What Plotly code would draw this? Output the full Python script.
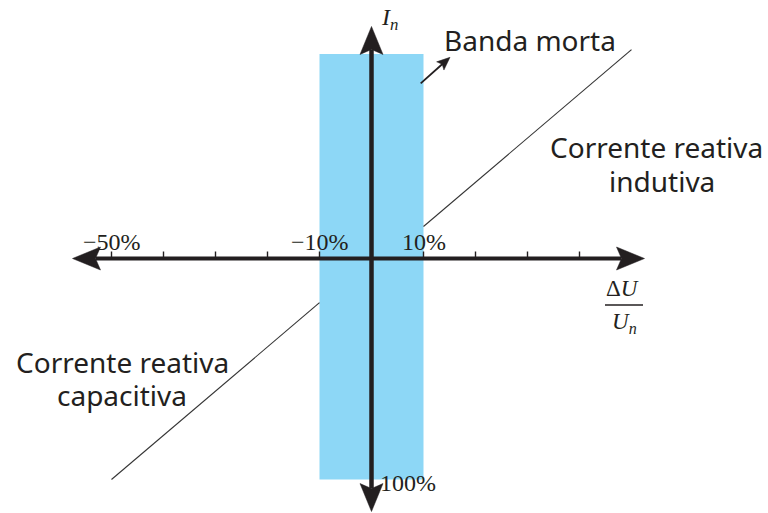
import math
import plotly.graph_objects as go

# ---------------- data (percent units) ----------------
cap_x = [-50, -10]          # "Corrente reativa capacitiva" segment
cap_y = [-100, -20]
ind_x = [10, 50]            # "Corrente reativa indutiva" segment
ind_y = [14.5, 94.5]
band_x = [-10, 10]          # dead band
band_y = [-100, 92.5]
tick_x = [-50, -40, -30, -20, -10, 10, 20, 30, 40]
tick_label_x = [-50, -10, 10]
tick_label_text = ["\u221250%", "\u221210%", "10%"]
v_label_y = -100
v_label_text = "100%"
x_axis_ends = [-57.5, 52.5]
y_axis_ends = [-114.5, 105]

# ---------------- geometry ----------------
W, H = 768, 513
X0_PX, Y0_PX = 371.5, 258.5    # pixel position of origin
SX, SY = 5.2, 2.21             # pixels per percent
x_range = [(0 - X0_PX) / SX, (W - X0_PX) / SX]
y_range = [(Y0_PX - H) / SY, Y0_PX / SY]

DARK = "#231f20"
BLUE = "#8dd7f6"


def to_px(x, y):
    return X0_PX + SX * x, Y0_PX - SY * y


def to_data(px, py):
    return (px - X0_PX) / SX, (Y0_PX - py) / SY


def arrow_head(tip, direction, length, width, notch):
    """stealth arrowhead polygon in data coords; tip given in data coords"""
    tx, ty = to_px(*tip)
    dx, dy = direction
    n = math.hypot(dx, dy)
    dx, dy = dx / n, dy / n
    nx, ny = -dy, dx
    pts_px = [
        (tx, ty),
        (tx - dx * length + nx * width / 2, ty - dy * length + ny * width / 2),
        (tx - dx * (length - notch), ty - dy * (length - notch)),
        (tx - dx * length - nx * width / 2, ty - dy * length - ny * width / 2),
        (tx, ty),
    ]
    pts = [to_data(px, py) for px, py in pts_px]
    return [p[0] for p in pts], [p[1] for p in pts]


fig = go.Figure()

# dead band
fig.add_shape(type="rect", x0=band_x[0], x1=band_x[1], y0=band_y[0], y1=band_y[1],
              fillcolor=BLUE, line_width=0, layer="below")

# characteristic lines
for xs, ys in [(cap_x, cap_y), (ind_x, ind_y)]:
    fig.add_trace(go.Scatter(x=xs, y=ys, mode="lines",
                             line=dict(color="#333333", width=1.1),
                             hoverinfo="skip", showlegend=False))

# axis shafts
AL, AW, AN = 28, 23, 5
notch_x = (AL - AN) / SX
notch_y = (AL - AN) / SY
fig.add_shape(type="line", x0=x_axis_ends[0] + notch_x, x1=x_axis_ends[1] - notch_x,
              y0=0, y1=0, line=dict(color=DARK, width=4.2))
fig.add_shape(type="line", x0=0, x1=0, y0=y_axis_ends[0] + notch_y,
              y1=y_axis_ends[1] - notch_y, line=dict(color=DARK, width=4.5))

# ticks
tick_h = 7 / SY
for t in tick_x:
    fig.add_shape(type="line", x0=t, x1=t, y0=0, y1=tick_h,
                  line=dict(color=DARK, width=1.4))

# arrowheads of the axes
heads = [
    ((x_axis_ends[0], 0), (-1, 0)),
    ((x_axis_ends[1], 0), (1, 0)),
    ((0, y_axis_ends[1]), (0, -1)),
    ((0, y_axis_ends[0]), (0, 1)),
]
for tip, d in heads:
    hx, hy = arrow_head(tip, d, AL, AW, AN)
    fig.add_trace(go.Scatter(x=hx, y=hy, mode="lines", fill="toself",
                             fillcolor=DARK, line=dict(color=DARK, width=0.5),
                             hoverinfo="skip", showlegend=False))

# small pointer arrow for "Banda morta"
p_start = to_data(420.7, 83.3)
p_tip = to_data(450, 57.3)
sx_px, sy_px = to_px(*p_start)
tx_px, ty_px = to_px(*p_tip)
dvec = (tx_px - sx_px, ty_px - sy_px)
dn = math.hypot(*dvec)
shaft_end = to_data(tx_px - dvec[0] / dn * 9, ty_px - dvec[1] / dn * 9)
fig.add_trace(go.Scatter(x=[p_start[0], shaft_end[0]], y=[p_start[1], shaft_end[1]],
                         mode="lines", line=dict(color=DARK, width=1.8),
                         hoverinfo="skip", showlegend=False))
hx, hy = arrow_head(p_tip, dvec, 13, 11, 2.5)
fig.add_trace(go.Scatter(x=hx, y=hy, mode="lines", fill="toself",
                         fillcolor=DARK, line=dict(color=DARK, width=0.5),
                         hoverinfo="skip", showlegend=False))

SERIF = "Liberation Serif"
SANS = "Noto Sans"

annotations = []
# tick labels
for tx, txt in zip(tick_label_x, tick_label_text):
    annotations.append(dict(x=tx, y=0, text=txt, showarrow=False, xanchor="center",
                            yanchor="middle", yshift=17,
                            font=dict(family=SERIF, size=24, color=DARK)))
annotations.append(dict(x=0, y=v_label_y, text=v_label_text, showarrow=False,
                        xanchor="left", yanchor="middle", xshift=6, yshift=-3,
                        font=dict(family=SERIF, size=24, color=DARK)))


def add_text(px, py, text, family, size, xanchor="center"):
    x, y = to_data(px, py)
    annotations.append(dict(x=x, y=y, text=text, showarrow=False, xanchor=xanchor,
                            yanchor="middle",
                            font=dict(family=family, size=size, color=DARK)))


add_text(389, 19, "<i>I</i><sub><i>n</i></sub>", SERIF, 24)
add_text(530, 40, "Banda morta", SANS, 28)
add_text(656, 147, "Corrente reativa", SANS, 28)
add_text(662, 181, "indutiva", SANS, 28)
add_text(122, 362, "Corrente reativa", SANS, 28)
add_text(122, 395, "capacitiva", SANS, 28)
add_text(622, 288, "\u0394<i>U</i>", SERIF, 23)
add_text(624, 323, "<i>U</i><sub><i>n</i></sub>", SERIF, 23)

# fraction bar
fb0 = to_data(605, 305)
fb1 = to_data(643, 305)
fig.add_shape(type="line", x0=fb0[0], x1=fb1[0], y0=fb0[1], y1=fb1[1],
              line=dict(color=DARK, width=1.3))

fig.update_layout(
    width=W, height=H,
    margin=dict(l=0, r=0, t=0, b=0),
    paper_bgcolor="white", plot_bgcolor="white",
    xaxis=dict(range=x_range, visible=False, fixedrange=True),
    yaxis=dict(range=y_range, visible=False, fixedrange=True),
    annotations=annotations,
    showlegend=False,
)

fig.write_html("out.html", config={"displayModeBar": False},
               post_script="document.body.style.margin='0px';")
